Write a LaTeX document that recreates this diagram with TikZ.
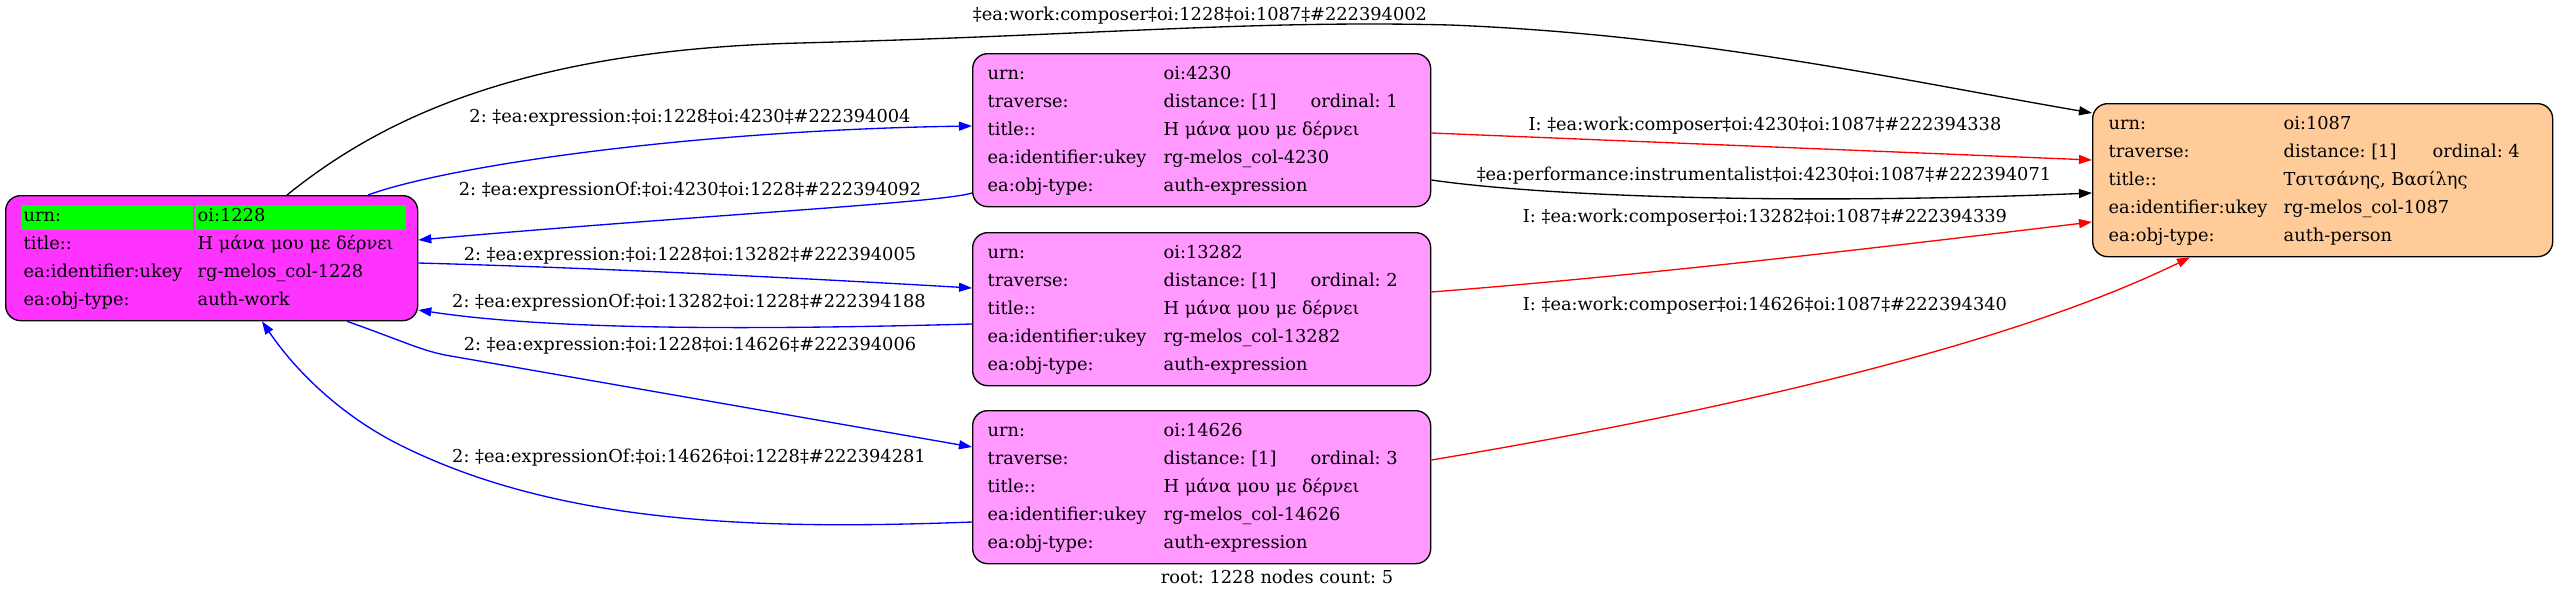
\documentclass[tikz,border=0pt]{standalone}
\usepackage{fontspec}
\setmainfont{DejaVu Serif}
\usetikzlibrary{arrows.meta,calc}
\definecolor{mag}{RGB}{255,51,255}
\definecolor{pinkx}{RGB}{255,153,255}
\definecolor{orng}{RGB}{255,204,153}
\definecolor{grn}{RGB}{0,255,0}
\newcommand{\greencell}[2]{\leavevmode\rlap{\hspace{-3pt}\smash{\textcolor{grn}{\rule[-8pt]{#1}{25pt}}}}#2}
\frenchspacing
\begin{document}
\begin{tikzpicture}[x=1pt,y=-1pt,
  font=\fontsize{17.8}{28}\selectfont\frenchspacing,
  line width=1.33pt,
  >={Triangle[length=13pt,width=9pt]},
  box/.style={draw=black, rounded corners=15pt, anchor=north west,
    inner xsep=#1, inner ysep=6.5pt, line width=1.33pt},
  elab/.style={anchor=base, inner sep=0pt},
  bl/.style={draw=blue, ->},
  rd/.style={draw=red, ->},
  bk/.style={draw=black, ->}]
\useasboundingbox (0,0) rectangle (2556,600);

% ---------- nodes ----------
\node[box=18pt, fill=mag] (n1228) at (5,195) {\begin{tabular}{@{}p{174pt}@{}p{202pt}@{}}
\greencell{172pt}{urn:} & \greencell{211pt}{oi:1228}\\
title:: & Η μάνα μου με δέρνει\\
ea:identifier:ukey & rg-melos\_col-1228\\
ea:obj-type: & auth-work
\end{tabular}};

\node[box=15pt, fill=pinkx] (n4230) at (972,53) {\begin{tabular}{@{}p{176pt}@{}p{252pt}@{}}
urn: & oi:4230\\
traverse: & \makebox[147pt][l]{distance: [1]}ordinal: 1\\
title:: & Η μάνα μου με δέρνει\\
ea:identifier:ukey & rg-melos\_col-4230\\
ea:obj-type: & auth-expression
\end{tabular}};

\node[box=15pt, fill=pinkx] (n13282) at (972,232) {\begin{tabular}{@{}p{176pt}@{}p{252pt}@{}}
urn: & oi:13282\\
traverse: & \makebox[147pt][l]{distance: [1]}ordinal: 2\\
title:: & Η μάνα μου με δέρνει\\
ea:identifier:ukey & rg-melos\_col-13282\\
ea:obj-type: & auth-expression
\end{tabular}};

\node[box=15pt, fill=pinkx] (n14626) at (972,410) {\begin{tabular}{@{}p{176pt}@{}p{252pt}@{}}
urn: & oi:14626\\
traverse: & \makebox[147pt][l]{distance: [1]}ordinal: 3\\
title:: & Η μάνα μου με δέρνει\\
ea:identifier:ukey & rg-melos\_col-14626\\
ea:obj-type: & auth-expression
\end{tabular}};

\node[box=16pt, fill=orng] (n1087) at (2092,103) {\begin{tabular}{@{}p{175pt}@{}p{253pt}@{}}
urn: & oi:1087\\
traverse: & \makebox[149pt][l]{distance: [1]}ordinal: 4\\
title:: & Τσιτσάνης, Βασίλης\\
ea:identifier:ukey & rg-melos\_col-1087\\
ea:obj-type: & auth-person
\end{tabular}};

% ---------- edges ----------
\draw[bk] ($(n1228.north west)+(282,0)$) .. controls (380,120) and (520,50) .. (800,43)
  .. controls (1100,35) and (1250,20) .. (1450,25)
  .. controls (1700,35) and (1900,80) .. ($(n1087.north west)+(0,10)$);
\draw[bl] ($(n1228.north west)+(363,0)$) .. controls (450,165) and (700,130) .. ($(n4230.north west)+(0,73)$);
\draw[bl] ($(n4230.north west)+(0,140)$) .. controls (940,203) and (700,215) .. ($(n1228.north east)+(0,45)$);
\draw[bl] ($(n1228.north east)+(0,68)$) .. controls (600,268) and (800,278) .. ($(n13282.north west)+(0,56)$);
\draw[bl] ($(n13282.north west)+(0,92)$) .. controls (750,330) and (550,330) .. ($(n1228.north east)+(0,115)$);
\draw[bl] ($(n1228.south west)+(342,0)$) .. controls (400,340) and (420,350) .. (445,355) -- ($(n14626.north west)+(0,37)$);
\draw[bl] ($(n14626.north west)+(0,112)$) .. controls (760,530) and (560,525) .. (400,445)
  .. controls (340,415) and (295,370) .. ($(n1228.south west)+(257,0)$);
\draw[rd] ($(n4230.north east)+(0,80)$) -- ($(n1087.north west)+(0,57)$);
\draw[bk] ($(n4230.north east)+(0,127)$) .. controls (1550,197) and (1800,205) .. ($(n1087.north west)+(0,90)$);
\draw[rd] ($(n13282.north east)+(0,60)$) .. controls (1650,275) and (1900,245) .. ($(n1087.north west)+(0,119)$);
\draw[rd] ($(n14626.north east)+(0,50)$) .. controls (1700,415) and (2000,350) .. ($(n1087.south west)+(98,0)$);

% ---------- labels ----------
\node[elab] (l1) at (1200,20) {‡ea:work:composer‡oi:1228‡oi:1087‡\#222394002};
\node[elab] (l2) at (690,122) {2: ‡ea:expression:‡oi:1228‡oi:4230‡\#222394004};
\node[elab] (l3) at (690,195) {2: ‡ea:expressionOf:‡oi:4230‡oi:1228‡\#222394092};
\node[elab] (l4) at (690,260) {2: ‡ea:expression:‡oi:1228‡oi:13282‡\#222394005};
\node[elab] (l5) at (689,307) {2: ‡ea:expressionOf:‡oi:13282‡oi:1228‡\#222394188};
\node[elab] (l6) at (690,350) {2: ‡ea:expression:‡oi:1228‡oi:14626‡\#222394006};
\node[elab] (l7) at (689,462) {2: ‡ea:expressionOf:‡oi:14626‡oi:1228‡\#222394281};
\node[elab] (l8) at (1765,130) {I: ‡ea:work:composer‡oi:4230‡oi:1087‡\#222394338};
\node[elab] (l9) at (1764,180) {‡ea:performance:instrumentalist‡oi:4230‡oi:1087‡\#222394071};
\node[elab] (l10) at (1765,222) {I: ‡ea:work:composer‡oi:13282‡oi:1087‡\#222394339};
\node[elab] (l11) at (1765,310) {I: ‡ea:work:composer‡oi:14626‡oi:1087‡\#222394340};
\node[elab] (root) at (1277,583) {root: 1228 nodes count: 5};
\end{tikzpicture}
\end{document}
